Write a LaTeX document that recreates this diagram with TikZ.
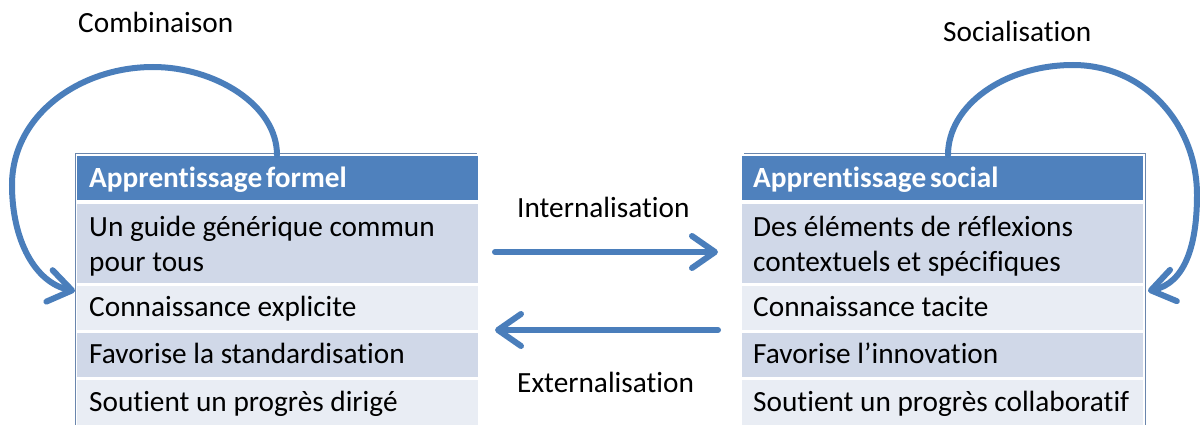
\documentclass[tikz,border=0pt]{standalone}
\usepackage{fontspec}
\setmainfont{Carlito}[Ligatures=NoCommon]
\usetikzlibrary{arrows.meta}
\definecolor{hdr}{HTML}{4F81BD}
\definecolor{rowA}{HTML}{D0D8E8}
\definecolor{rowB}{HTML}{E9EDF4}
\definecolor{arr}{HTML}{4A7EBB}
\definecolor{bord}{HTML}{6A86AD}
\newcommand\myhdrfont{\fontsize{29.3}{34}\selectfont\bfseries\spaceskip 0.13em plus 0.05em\relax}
\tikzset{
  cellbox/.style={rectangle, draw=none, inner sep=0pt, anchor=north west, minimum width=401pt},
  celltext/.style={anchor=base west, inner sep=0pt, font=\fontsize{29.3}{34}\selectfont, align=left},
  hdrtext/.style={anchor=base west, inner sep=0pt, font=\myhdrfont, text=white},
  lbl/.style={anchor=base west, inner sep=0pt, font=\fontsize{29.3}{34}\selectfont},
  flow/.style={draw=arr, line width=6pt, line cap=round, -{Straight Barb[length=23pt,width=32pt,line width=6pt,round]}},
  tblborder/.style={draw=bord, line width=1pt}
}
\begin{document}
\begin{tikzpicture}[x=1pt,y=-1pt]
\useasboundingbox (0,0) rectangle (1200,425);
% ---- left table
\node[cellbox, fill=hdr, minimum height=44pt] (LH) at (77,156) {};
\node[cellbox, fill=rowA, minimum height=79pt] (L1) at (77,204) {};
\node[cellbox, fill=rowB, minimum height=44pt] (L2) at (77,286) {};
\node[cellbox, fill=rowA, minimum height=44pt] (L3) at (77,333) {};
\node[cellbox, fill=rowB, minimum height=46pt] (L4) at (77,380) {};
\draw[tblborder] (75.5,430) -- (75.5,153.5) -- (477,153.5);
\node[hdrtext] (LHt) at (89,188) {Apprentissage formel};
\node[celltext] (L1t) at (89,236) {Un guide générique commun};
\node[celltext] (L1u) at (89,271) {pour tous};
\node[celltext] (L2t) at (89,316) {Connaissance explicite};
\node[celltext] (L3t) at (89,363) {Favorise la standardisation};
\node[celltext] (L4t) at (89,411) {Soutient un progrès dirigé};
% ---- right table
\node[cellbox, fill=hdr, minimum height=44pt] (RH) at (742,156) {};
\node[cellbox, fill=rowA, minimum height=79pt] (R1) at (742,204) {};
\node[cellbox, fill=rowB, minimum height=44pt] (R2) at (742,286) {};
\node[cellbox, fill=rowA, minimum height=44pt] (R3) at (742,333) {};
\node[cellbox, fill=rowB, minimum height=46pt] (R4) at (742,380) {};
\draw[tblborder] (744,153.5) -- (1145.5,153.5) -- (1145.5,430);
\node[hdrtext] (RHt) at (753,188) {Apprentissage social};
\node[celltext] (R1t) at (753,236) {Des éléments de réflexions};
\node[celltext] (R1u) at (753,271) {contextuels et spécifiques};
\node[celltext] (R2t) at (753,316) {Connaissance tacite};
\node[celltext] (R3t) at (753,363) {Favorise l’innovation};
\node[celltext] (R4t) at (753,411) {Soutient un progrès collaboratif};
% ---- labels
\node[lbl] (comb) at (78,33) {Combinaison};
\node[lbl] (soc) at (943,42) {Socialisation};
\node[lbl] (int) at (517,217) {Internalisation};
\node[lbl] (ext) at (517,392) {Externalisation};
% ---- straight flows
\coordinate (iA) at (495,252);
\coordinate (iB) at (718,252);
\coordinate (eA) at (718,330);
\coordinate (eB) at (495,330);
\draw[flow] (iA) -- (iB);
\draw[flow] (eA) -- (eB);
% ---- loops
\coordinate (cS) at (277,155);
\coordinate (cE) at (75,291);
\draw[flow] (cS) .. controls (277,105) and (215,67) .. (153,67)
  .. controls (80,67) and (12,115) .. (12,185)
  .. controls (12,240) and (35,283) .. (cE);
\coordinate (sS) at (948,155);
\coordinate (sE) at (1148,291);
\draw[flow] (sS) .. controls (948,105) and (1005,65) .. (1073,65)
  .. controls (1145,65) and (1197,125) .. (1197,195)
  .. controls (1197,245) and (1185,283) .. (sE);
\end{tikzpicture}
\end{document}
